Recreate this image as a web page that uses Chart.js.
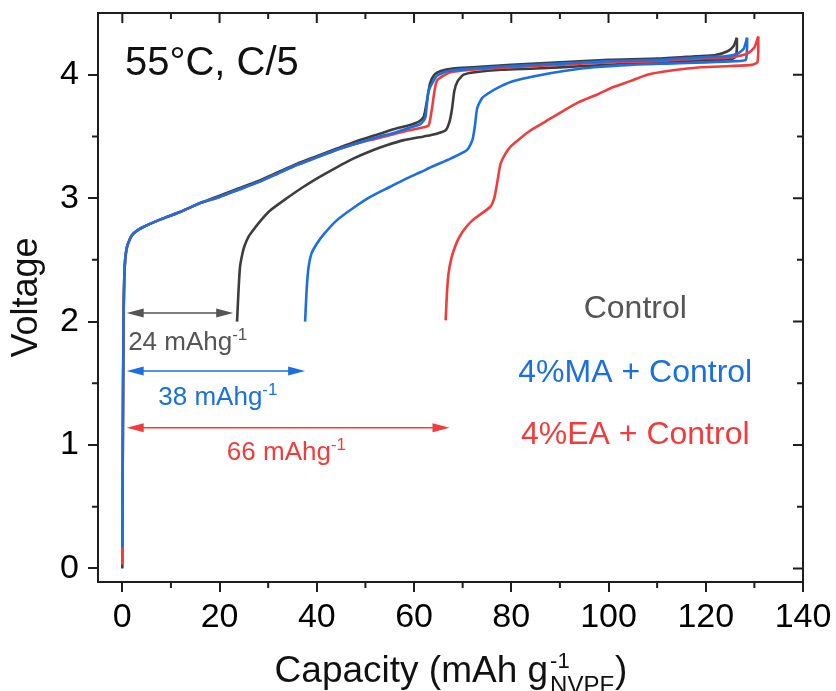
<!DOCTYPE html>
<html>
<head>
<meta charset="utf-8">
<script src="https://cdn.jsdelivr.net/npm/chart.js@4.4.1/dist/chart.umd.min.js"></script>
<style>
  html, body { margin: 0; padding: 0; background: #fff; }
  #wrap { width: 836px; height: 691px; }
</style>
</head>
<body>
<div id="wrap"><canvas id="chart" width="836" height="691"></canvas></div>
<script>
// Axis ticks
const xTicks = [0, 20, 40, 60, 80, 100, 120, 140];
const yTicks = [0, 1, 2, 3, 4];
const xMinor = [10, 30, 50, 70, 90, 110, 130];
const yMinor = [0.5, 1.5, 2.5, 3.5];

// Control - curve starting at 0
const ctrlCap0 = [0, 0.1, 0.25, 0.5, 1, 2, 4, 8, 12, 16, 20, 24, 28, 32, 36, 40, 44, 48, 52, 56, 59, 61, 62, 62.7, 63.3, 64.2, 65.5, 68, 72, 80, 90, 100, 110, 118, 122, 124.5, 125.7, 126.4];
const ctrlV0   = [0.0, 1.0, 2.0, 2.45, 2.61, 2.70, 2.76, 2.83, 2.89, 2.96, 3.02, 3.08, 3.14, 3.21, 3.28, 3.34, 3.40, 3.46, 3.51, 3.56, 3.59, 3.62, 3.66, 3.80, 3.93, 4.00, 4.03, 4.05, 4.06, 4.08, 4.10, 4.12, 4.13, 4.15, 4.16, 4.19, 4.23, 4.30];
// Control - shifted curve (24 mAh/g)
const ctrlCapS = [23.6, 23.9, 24.2, 24.7, 25.2, 26, 26.9, 28.5, 30.4, 33.5, 37.2, 40.5, 44.1, 47.5, 51, 54.5, 57.9, 62, 64.5, 66.5, 67.3, 67.8, 68.3, 69, 70.2, 72.5, 78, 85, 95, 105, 115, 122, 125.5, 126.2, 126.4, 126.4];
const ctrlVS   = [2.0, 2.25, 2.44, 2.55, 2.62, 2.69, 2.74, 2.82, 2.90, 2.99, 3.09, 3.17, 3.25, 3.32, 3.38, 3.43, 3.47, 3.50, 3.52, 3.55, 3.62, 3.72, 3.87, 3.95, 4.00, 4.02, 4.04, 4.05, 4.07, 4.09, 4.11, 4.12, 4.13, 4.15, 4.22, 4.30];

// 4%MA + Control - curve starting at 0
const maCap0 = [0, 0.1, 0.25, 0.5, 1, 2, 4, 8, 12, 16, 20, 24, 28, 32, 36, 40, 44, 48, 52, 56, 59, 61.3, 62.3, 63.0, 64.7, 67, 72, 80, 90, 100, 110, 118, 124, 126.5, 127.8, 128.5];
const maV0   = [0.17, 1.0, 2.0, 2.45, 2.61, 2.70, 2.76, 2.83, 2.89, 2.96, 3.01, 3.07, 3.13, 3.20, 3.27, 3.33, 3.39, 3.44, 3.49, 3.53, 3.57, 3.60, 3.65, 3.87, 3.99, 4.03, 4.05, 4.07, 4.09, 4.11, 4.12, 4.14, 4.15, 4.17, 4.21, 4.30];
// 4%MA + Control - shifted curve (38 mAh/g)
const maCapS = [37.6, 37.9, 38.3, 38.9, 40.0, 41.5, 44.1, 47.5, 51, 55, 58, 61.3, 64, 67.5, 70.9, 72, 72.5, 73, 74, 75.7, 78, 80.5, 85, 90.8, 97, 104.6, 112, 120, 126, 128.2, 128.5, 128.5];
const maVS   = [2.0, 2.25, 2.44, 2.55, 2.63, 2.71, 2.82, 2.92, 3.01, 3.09, 3.15, 3.21, 3.26, 3.32, 3.39, 3.47, 3.58, 3.73, 3.81, 3.86, 3.91, 3.95, 3.99, 4.03, 4.06, 4.08, 4.09, 4.10, 4.11, 4.12, 4.22, 4.30];

// 4%EA + Control - curve starting at 0
const eaCap0 = [0, 0.1, 0.25, 0.5, 1, 2, 4, 8, 12, 16, 20, 24, 28, 32, 36, 40, 44, 48, 52, 56, 59, 61.5, 63.0, 63.7, 64.7, 67.5, 72, 80, 90, 100, 110, 118, 125, 128.5, 130, 130.8];
const eaV0   = [0.03, 1.0, 2.0, 2.45, 2.61, 2.70, 2.76, 2.83, 2.89, 2.96, 3.01, 3.07, 3.13, 3.20, 3.27, 3.33, 3.39, 3.44, 3.48, 3.52, 3.55, 3.57, 3.59, 3.73, 3.95, 4.02, 4.04, 4.06, 4.08, 4.10, 4.11, 4.13, 4.14, 4.17, 4.22, 4.31];
// 4%EA + Control - shifted curve (66 mAh/g)
const eaCapS = [66.5, 66.8, 67.1, 67.6, 68.2, 69, 70.2, 72, 75.7, 76.5, 77.0, 77.5, 77.8, 78.8, 79.9, 82, 84, 87, 90.8, 94, 97.7, 101, 104.6, 108, 112.2, 119, 125, 129.5, 130.6, 130.8, 130.8];
const eaVS   = [2.01, 2.25, 2.39, 2.50, 2.58, 2.66, 2.74, 2.82, 2.93, 3.00, 3.10, 3.22, 3.28, 3.36, 3.42, 3.49, 3.55, 3.62, 3.71, 3.78, 3.84, 3.90, 3.95, 4.00, 4.03, 4.06, 4.07, 4.08, 4.10, 4.20, 4.31];

// Capacity-gap arrows
const gapLabels = ['24 mAhg', '38 mAhg', '66 mAhg'];
const gapEnds = [22.8, 37.6, 67.3];
const gapLevels = [2.07, 1.60, 1.14];

const seriesNames = ['Control', '4%MA + Control', '4%EA + Control'];

const grayLine = '#3d3d3d';
const grayText = '#555555';
const blue = '#1b6fe0';
const red = '#f03c3c';
const axisColor = '#1e1e1e';
const FONT = '"Liberation Sans", Arial, sans-serif';

function pts(xs, ys) {
    return xs.map((x, i) => ({ x: x, y: ys[i] }));
}

function line(data, color) {
    return {
        data: data,
        borderColor: color,
        borderWidth: 2.6,
        pointRadius: 0,
        tension: 0.2,
        fill: false
    };
}

// Draw text made of parts (normal / superscript)
function richText(ctx, parts, x, y) {
    let cx = x;
    for (const p of parts) {
        ctx.font = p.size + 'px ' + FONT;
        ctx.fillText(p.t, cx, y + (p.dy || 0));
        cx += ctx.measureText(p.t).width;
    }
}

function arrowHead(ctx, xTip, y, dir) {
    ctx.beginPath();
    ctx.moveTo(xTip, y);
    ctx.lineTo(xTip - dir * 17, y - 4.5);
    ctx.lineTo(xTip - dir * 17, y + 4.5);
    ctx.closePath();
    ctx.fill();
}

// drop the label overflow padding so the plot box sits where we want it
function noPad(s) {
    s.paddingTop = 0; s.paddingBottom = 0;
    s.paddingLeft = 0; s.paddingRight = 0;
}

const framePlugin = {
    id: 'frame',
    afterDraw(chart) {
        const { ctx, chartArea: a, scales: { x, y } } = chart;
        ctx.save();
        ctx.strokeStyle = axisColor;
        ctx.lineWidth = 2;
        ctx.beginPath();
        ctx.moveTo(a.left, a.top);
        ctx.lineTo(a.right, a.top);
        ctx.lineTo(a.right, a.bottom);
        ctx.stroke();

        ctx.beginPath();
        for (const v of xTicks) {
            const px = x.getPixelForValue(v);
            ctx.moveTo(px, a.top); ctx.lineTo(px, a.top + 10);
        }
        for (const v of xMinor) {
            const px = x.getPixelForValue(v);
            ctx.moveTo(px, a.top); ctx.lineTo(px, a.top + 6);
            ctx.moveTo(px, a.bottom); ctx.lineTo(px, a.bottom + 6);
        }
        for (const v of yTicks) {
            const py = y.getPixelForValue(v);
            ctx.moveTo(a.right, py); ctx.lineTo(a.right - 10, py);
        }
        for (const v of yMinor) {
            const py = y.getPixelForValue(v);
            ctx.moveTo(a.right, py); ctx.lineTo(a.right - 6, py);
            ctx.moveTo(a.left, py); ctx.lineTo(a.left - 6, py);
        }
        ctx.stroke();

        // capacity gap arrows
        const colors = [grayText, blue, red];
        const x0 = x.getPixelForValue(0.9);
        ctx.lineWidth = 1.6;
        gapEnds.forEach((end, i) => {
            const py = y.getPixelForValue(gapLevels[i]);
            const x1 = x.getPixelForValue(end);
            ctx.strokeStyle = colors[i];
            ctx.fillStyle = colors[i];
            ctx.beginPath();
            ctx.moveTo(x0 + 5, py); ctx.lineTo(x1 - 5, py);
            ctx.stroke();
            arrowHead(ctx, x0, py, -1);
            arrowHead(ctx, x1, py, 1);
        });

        // gap labels
        ctx.textBaseline = 'alphabetic';
        ctx.textAlign = 'left';
        const labelPos = [[1.2, 1.77], [7.4, 1.32], [21.5, 0.88]];
        gapLabels.forEach((txt, i) => {
            ctx.fillStyle = colors[i];
            richText(ctx, [{ t: txt, size: 26 }, { t: '-1', size: 17, dy: -10 }],
                x.getPixelForValue(labelPos[i][0]), y.getPixelForValue(labelPos[i][1]));
        });

        // series names
        ctx.textAlign = 'center';
        ctx.font = '32px ' + FONT;
        const nameLevels = [2.03, 1.51, 1.01];
        seriesNames.forEach((n, i) => {
            ctx.fillStyle = colors[i];
            ctx.fillText(n, x.getPixelForValue(105.5), y.getPixelForValue(nameLevels[i]));
        });

        // condition label
        ctx.textAlign = 'left';
        ctx.fillStyle = '#111';
        ctx.font = '40px ' + FONT;
        ctx.fillText('55°C, C/5', x.getPixelForValue(0.55), y.getPixelForValue(4.0));

        // y title
        ctx.save();
        ctx.translate(36.5, (a.top + a.bottom) / 2);
        ctx.rotate(-Math.PI / 2);
        ctx.textAlign = 'center';
        ctx.font = '36px ' + FONT;
        ctx.fillText('Voltage', 0, 0);
        ctx.restore();

        // x title with super/subscript
        ctx.textAlign = 'left';
        ctx.font = '37px ' + FONT;
        const main = 'Capacity (mAh g';
        const w1 = ctx.measureText(main).width;
        ctx.font = '24px ' + FONT;
        const wSub = ctx.measureText('NVPF').width;
        ctx.font = '37px ' + FONT;
        const w3 = ctx.measureText(')').width;
        const total = w1 + wSub + 2 + w3;
        const sx = (a.left + a.right) / 2 - total / 2;
        const base = 681.5;
        ctx.fillText(main, sx, base);
        ctx.font = '22px ' + FONT;
        ctx.fillText('-1', sx + w1 + 2, base - 14);
        ctx.font = '24px ' + FONT;
        ctx.fillText('NVPF', sx + w1 + 2, base + 11);
        ctx.font = '37px ' + FONT;
        ctx.fillText(')', sx + w1 + wSub + 3, base);
        ctx.restore();
    }
};

const ctx = document.getElementById('chart').getContext('2d');
new Chart(ctx, {
    type: 'line',
    data: {
        datasets: [
            line(pts(maCap0, maV0), blue),
            line(pts(eaCap0, eaV0), red),
            line(pts(ctrlCap0, ctrlV0), grayLine),
            line(pts(maCapS, maVS), blue),
            line(pts(eaCapS, eaVS), red),
            line(pts(ctrlCapS, ctrlVS), grayLine)
        ]
    },
    options: {
        responsive: false,
        animation: false,
        events: [],
        layout: { padding: { top: 13, right: 33, left: 0, bottom: 0 } },
        plugins: { legend: { display: false }, tooltip: { enabled: false } },
        scales: {
            x: {
                type: 'linear',
                min: -5,
                max: 140,
                afterBuildTicks: (s) => { s.ticks = xTicks.map(v => ({ value: v })); },
                afterFit: (s) => { s.height = 109; noPad(s); },
                border: { display: true, color: axisColor, width: 2 },
                grid: { drawOnChartArea: false, drawTicks: true, tickLength: 10, color: axisColor, lineWidth: 2 },
                ticks: { color: '#000', padding: 5, maxRotation: 0, autoSkip: false, font: { family: FONT, size: 34 } }
            },
            y: {
                type: 'linear',
                min: -0.11,
                max: 4.5,
                afterBuildTicks: (s) => { s.ticks = yTicks.map(v => ({ value: v })); },
                afterFit: (s) => { s.width = 98; noPad(s); },
                border: { display: true, color: axisColor, width: 2 },
                grid: { drawOnChartArea: false, drawTicks: true, tickLength: 10, color: axisColor, lineWidth: 2 },
                ticks: { color: '#000', padding: 9, autoSkip: false, font: { family: FONT, size: 34 } }
            }
        }
    },
    plugins: [framePlugin]
});
</script>
</body>
</html>
